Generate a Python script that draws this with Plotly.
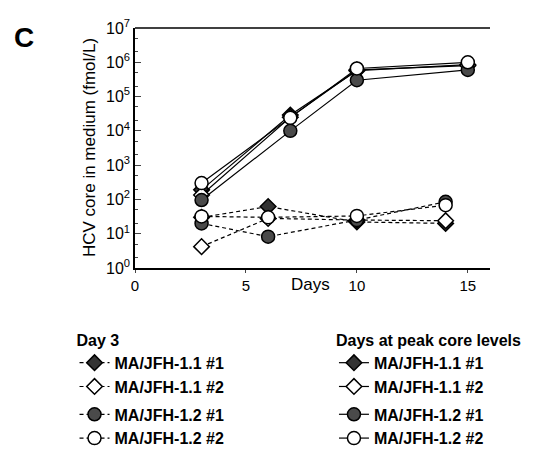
import plotly.graph_objects as go

days_peak = [3, 7, 10, 15]
peak_11_1 = [190, 29000, 570000, 850000]
peak_11_2 = [135, 25000, 600000, 800000]
peak_12_1 = [96, 10000, 300000, 600000]
peak_12_2 = [300, 24000, 660000, 1000000]

days_d3 = [3, 6, 10, 14]
d3_11_1 = [30, 62, 22, 20]
d3_11_2 = [4.2, 28, 25, 24]
d3_12_1 = [20, 8.2, 25, 85]
d3_12_2 = [32, 30, 33, 68]

x_ticks = [0, 5, 10, 15]
y_tickvals = [1, 10, 100, 1e3, 1e4, 1e5, 1e6, 1e7]
y_ticktext = ["10<sup>%d</sup>" % i for i in range(8)]

names = ["MA/JFH-1.1 #1", "MA/JFH-1.1 #2", "MA/JFH-1.2 #1", "MA/JFH-1.2 #2"]
symbols = ["diamond", "diamond", "circle", "circle"]
fills = ["#333333", "white", "#4a4a4a", "white"]
groups = ["a", "a", "b", "b"]

fig = go.Figure()

for vals, nm, sym, fc, g in zip([d3_11_1, d3_11_2, d3_12_1, d3_12_2], names, symbols, fills, groups):
    fig.add_trace(go.Scatter(
        x=days_d3, y=vals, name="<b>" + nm + "</b>", mode="lines+markers",
        line=dict(color="black", width=1.2, dash="4px,3px"),
        marker=dict(symbol=sym, size=13 if sym == "circle" else 12, color=fc,
                    line=dict(color="black", width=1.5)),
        legend="legend", legendgroup="d" + g))

for vals, nm, sym, fc, g in zip([peak_11_1, peak_11_2, peak_12_1, peak_12_2], names, symbols, fills, groups):
    fig.add_trace(go.Scatter(
        x=days_peak, y=vals, name="<b>" + nm + "</b>", mode="lines+markers",
        line=dict(color="black", width=1.2),
        marker=dict(symbol=sym, size=13 if sym == "circle" else 12, color=fc,
                    line=dict(color="black", width=1.5)),
        legend="legend2", legendgroup="p" + g))

font_fam = "Liberation Sans, Arial, sans-serif"

fig.update_layout(
    width=552, height=453,
    margin=dict(l=135, r=62, t=28, b=185, autoexpand=False),
    paper_bgcolor="white", plot_bgcolor="white",
    font=dict(family=font_fam, color="black"),
    xaxis=dict(range=[0, 16], tickvals=x_ticks, ticks="outside", ticklen=3,
               showline=True, linecolor="black", linewidth=1.5, showgrid=False,
               zeroline=False, tickfont=dict(size=15)),
    yaxis=dict(type="log", range=[0, 7], tickvals=y_tickvals, ticktext=y_ticktext,
               ticks="inside", ticklen=6, showline=True, linecolor="black", linewidth=1.5,
               mirror=False, showgrid=False, zeroline=False, tickfont=dict(size=16),
               minor=dict(ticks="inside", ticklen=3, showgrid=False)),
    legend=dict(xref="container", yref="container", x=0.135, y=0.2826,
                xanchor="left", yanchor="top", traceorder="grouped", tracegroupgap=4,
                title=dict(text="<b>Day 3</b>", font=dict(size=16)),
                font=dict(size=16, family=font_fam), bgcolor="rgba(0,0,0,0)"),
    legend2=dict(xref="container", yref="container", x=0.605, y=0.2826,
                 xanchor="left", yanchor="top", traceorder="grouped", tracegroupgap=4,
                 title=dict(text="<b>Days at peak core levels</b>", font=dict(size=16)),
                 font=dict(size=16, family=font_fam), bgcolor="rgba(0,0,0,0)"),
)

fig.add_shape(type="line", xref="paper", yref="paper", x0=0, x1=1, y0=1, y1=1,
              line=dict(color="black", width=1.5))

fig.add_annotation(text="<b>C</b>", xref="paper", yref="paper",
                   x=(12 - 135) / 355, y=1 + (28 - 20) / 240,
                   xanchor="left", yanchor="top", showarrow=False, font=dict(size=28))

fig.add_annotation(text="HCV core in medium (fmol/L)", textangle=-90,
                   xref="paper", yref="paper", x=(89 - 135) / 355, y=(268 - 148) / 240,
                   xanchor="center", yanchor="middle", showarrow=False, font=dict(size=17))

fig.add_annotation(text="Days", xref="paper", yref="paper",
                   x=(310 - 135) / 355, y=(268 - 284) / 240,
                   xanchor="center", yanchor="middle", showarrow=False, font=dict(size=17))

fig.write_html("out.html")
